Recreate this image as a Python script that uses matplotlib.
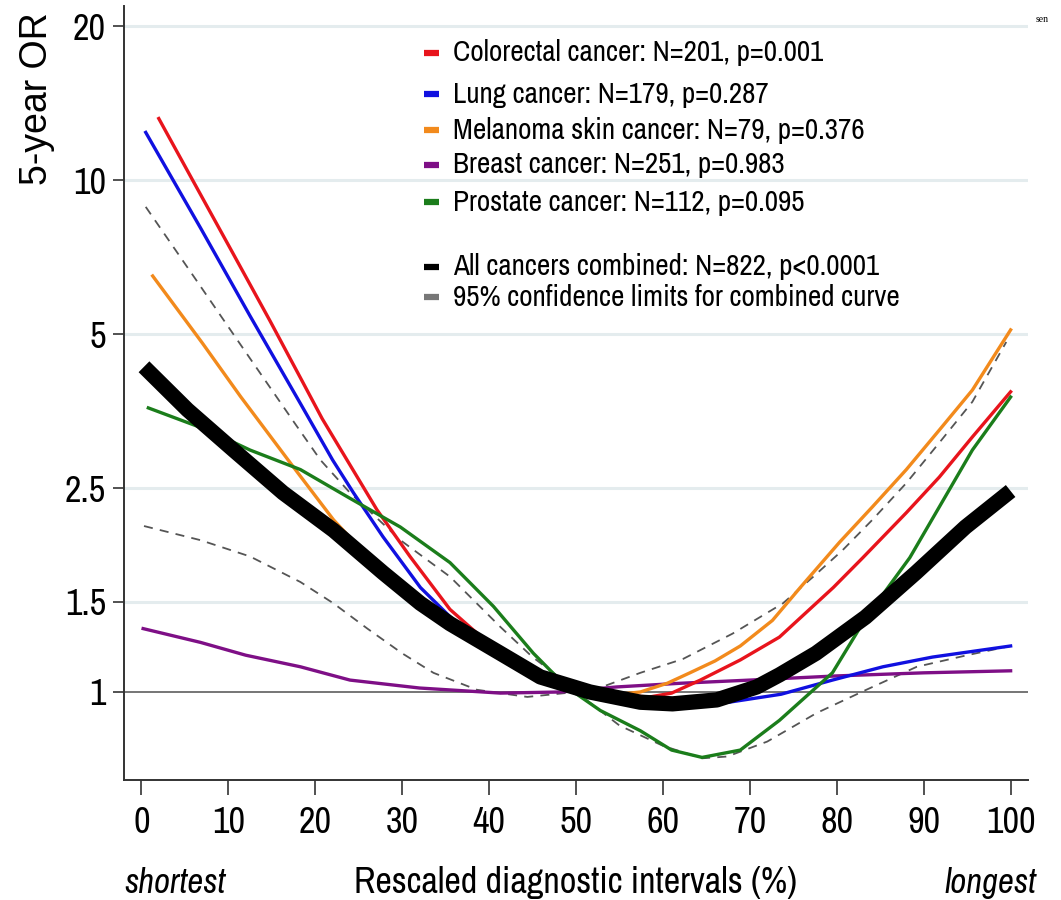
import matplotlib
matplotlib.use("Agg")
import matplotlib.pyplot as plt
from matplotlib.ticker import FixedLocator, FixedFormatter, NullLocator

# ---------------- data ----------------
red_x = [2.0, 5.9, 10.2, 14.8, 18.5, 20.8, 27.1, 30.9, 35.5, 39.8, 42.1, 46, 50, 55, 58.5, 61, 64.3, 68.9, 73.4, 79.6, 83, 88, 91.8, 95.6, 100]
red_y = [13.2, 10.0, 7.37, 5.31, 4.05, 3.42, 2.27, 1.84, 1.45, 1.25, 1.155, 1.07, 1.02, 0.985, 0.978, 0.995, 1.055, 1.155, 1.28, 1.60, 1.83, 2.24, 2.63, 3.15, 3.86]

blue_x = [0.5, 6.8, 12.5, 18.3, 22.0, 24.4, 27.8, 32.1, 36.7, 40, 45, 50, 55, 60, 64, 67.6, 73.6, 79.5, 85.3, 91, 100]
blue_y = [12.4, 8.07, 5.43, 3.66, 2.84, 2.45, 2.01, 1.60, 1.34, 1.21, 1.10, 1.01, 0.965, 0.945, 0.945, 0.955, 0.99, 1.055, 1.12, 1.17, 1.23]

orange_x = [1.3, 7, 11.4, 17.5, 22.1, 26, 28.3, 32, 36, 41, 47, 51, 55, 57.4, 60.5, 63.1, 66, 68.9, 72.6, 75.8, 80.3, 84.1, 88, 91.8, 95.6, 100]
orange_y = [6.5, 4.81, 3.78, 2.75, 2.17, 1.84, 1.71, 1.51, 1.35, 1.19, 1.06, 1.01, 0.99, 1.0, 1.04, 1.09, 1.15, 1.23, 1.38, 1.60, 1.96, 2.30, 2.72, 3.25, 3.89, 5.10]

purple_x = [0.2, 6.8, 12, 18.3, 24, 32, 41.3, 48.2, 54.7, 62, 70, 80, 90, 100]
purple_y = [1.33, 1.25, 1.18, 1.12, 1.055, 1.018, 0.995, 1.0, 1.023, 1.04, 1.055, 1.075, 1.09, 1.10]

green_x = [0.8, 7.6, 12.5, 18.3, 24, 29.8, 35.5, 40.5, 45.1, 49, 52.8, 57.4, 61, 64.5, 68.9, 73.4, 79.5, 83.4, 88.4, 91.8, 95.6, 100]
green_y = [3.59, 3.25, 2.97, 2.72, 2.39, 2.10, 1.79, 1.47, 1.19, 1.02, 0.92, 0.84, 0.77, 0.745, 0.77, 0.88, 1.09, 1.40, 1.83, 2.30, 2.97, 3.77]

all_x = [0.3, 5.3, 10.6, 16.3, 22.1, 27.8, 32.1, 35.5, 41.3, 45.9, 51.6, 57.4, 61.1, 66.2, 70.8, 73.4, 77.6, 83.3, 89.1, 94.8, 100]
all_y = [4.32, 3.56, 2.97, 2.45, 2.07, 1.71, 1.49, 1.36, 1.19, 1.07, 1.0, 0.955, 0.948, 0.965, 1.023, 1.08, 1.19, 1.40, 1.71, 2.10, 2.47]

ucl_x = [0.5, 6.2, 11.9, 17.7, 20.6, 24, 29.8, 35.5, 41.3, 45, 50, 52.8, 57.4, 62.3, 68, 73.8, 77.3, 80.7, 84.1, 88, 91.8, 95.6, 99.5]
ucl_y = [8.87, 6.42, 4.64, 3.34, 2.84, 2.45, 1.98, 1.68, 1.34, 1.17, 1.01, 1.02, 1.09, 1.16, 1.30, 1.49, 1.68, 1.895, 2.17, 2.56, 3.07, 3.69, 4.83]

lcl_x = [0.3, 6.8, 12.5, 18.3, 22.1, 26, 30, 33.6, 38.6, 44.4, 50, 55, 60, 64.5, 67.4, 72, 77.7, 83.4, 89.2, 95, 100]
lcl_y = [2.11, 1.98, 1.84, 1.64, 1.49, 1.33, 1.19, 1.09, 1.01, 0.978, 1.0, 0.86, 0.785, 0.742, 0.748, 0.80, 0.91, 1.01, 1.12, 1.18, 1.23]

x_ticks = [0, 10, 20, 30, 40, 50, 60, 70, 80, 90, 100]
y_ticks = [1, 1.5, 2.5, 5, 10, 20]
y_tick_labels = ["1", "1.5", "2.5", "5", "10", "20"]

legend_labels = [
    "Colorectal cancer: N=201, p=0.001",
    "Lung cancer: N=179, p=0.287",
    "Melanoma skin cancer: N=79, p=0.376",
    "Breast cancer: N=251, p=0.983",
    "Prostate cancer: N=112, p=0.095",
    "All cancers combined: N=822, p<0.0001",
    "95% confidence limits for combined curve",
]

# ---------------- style ----------------
NARROW = ["Liberation Sans Narrow", "Archivo Narrow", "DejaVu Sans"]
plt.rcParams["font.family"] = NARROW

C_RED = "#e8141c"
C_BLUE = "#1010e0"
C_ORANGE = "#f28a1c"
C_PURPLE = "#7e0f86"
C_GREEN = "#1b7d1b"
C_DASH = "#555555"

W, H = 1061, 900
fig = plt.figure(figsize=(W / 100, H / 100), dpi=100)
ax = fig.add_axes([124 / W, 1 - 780 / H, (1028 - 124) / W, (780 - 6) / H])

ax.set_yscale("log")
ax.set_xlim(-2, 102)
ax.set_ylim(0.673, 21.9)

# gridlines
for v in y_ticks[1:]:
    ax.axhline(v, color="#e4ecee", lw=2.2, zorder=0)
ax.axhline(1, color="#6a6a6a", lw=1.3, zorder=1)

# curves
kw = dict(solid_joinstyle="round", dash_joinstyle="round")
ax.plot(lcl_x, lcl_y, color=C_DASH, lw=1.3, ls=(0, (5, 4)), zorder=2, **kw)
ax.plot(ucl_x, ucl_y, color=C_DASH, lw=1.3, ls=(0, (5, 4)), zorder=2, **kw)
ax.plot(purple_x, purple_y, color=C_PURPLE, lw=2.4, zorder=3, **kw)
ax.plot(orange_x, orange_y, color=C_ORANGE, lw=2.4, zorder=3, **kw)
ax.plot(red_x, red_y, color=C_RED, lw=2.4, zorder=3, **kw)
ax.plot(blue_x, blue_y, color=C_BLUE, lw=2.4, zorder=3, **kw)
ax.plot(green_x, green_y, color=C_GREEN, lw=2.4, zorder=4, **kw)
ax.plot(all_x, all_y, color="black", lw=11, solid_capstyle="butt", zorder=5, **kw)

# axes cosmetics
for s in ["top", "right"]:
    ax.spines[s].set_visible(False)
for s in ["left", "bottom"]:
    ax.spines[s].set_color("#333333")
    ax.spines[s].set_linewidth(1.4)

ax.xaxis.set_major_locator(FixedLocator(x_ticks))
ax.yaxis.set_major_locator(FixedLocator(y_ticks))
ax.yaxis.set_major_formatter(FixedFormatter(y_tick_labels))
ax.yaxis.set_minor_locator(NullLocator())
ax.tick_params(axis="x", length=11, width=1.2, color="#333333", labelsize=26, pad=8)
ax.tick_params(axis="y", length=8, width=1.2, color="#333333", labelsize=26, pad=5)

# legend (manual, to match uneven spacing)
leg_colors = [C_RED, C_BLUE, C_ORANGE, C_PURPLE, C_GREEN, "black", "#777777"]
leg_rows_px = [53, 94, 130, 165, 202, 267, 297]
for lab, col, py in zip(legend_labels, leg_colors, leg_rows_px):
    yf = (780 - py) / 774
    ax.plot([(424 - 124) / 904, (439 - 124) / 904], [yf, yf], transform=ax.transAxes,
            color=col, lw=4.5, solid_capstyle="butt", zorder=6, clip_on=False)
    ax.text((453 - 124) / 904, yf, lab, transform=ax.transAxes, fontsize=21,
            va="center", ha="left", zorder=6)

# axis labels
fig.text(37 / W, 1 - 12 / H, "5-year OR", rotation=90, ha="center", va="top",
         fontsize=27, family=["Liberation Sans", "DejaVu Sans"])
fig.text(576 / W, 1 - 893 / H, "Rescaled diagnostic intervals (%)", ha="center",
         va="baseline", fontsize=26)
fig.text(124 / W, 1 - 893 / H, "shortest", ha="left", va="baseline", fontsize=25,
         style="italic")
fig.text(1036 / W, 1 - 893 / H, "longest", ha="right", va="baseline", fontsize=25,
         style="italic")
fig.text(1036 / W, 1 - 22 / H, "sen", ha="left", va="baseline", fontsize=7,
         family=["Liberation Serif", "DejaVu Serif"])

fig.savefig("out.png", dpi=100)
